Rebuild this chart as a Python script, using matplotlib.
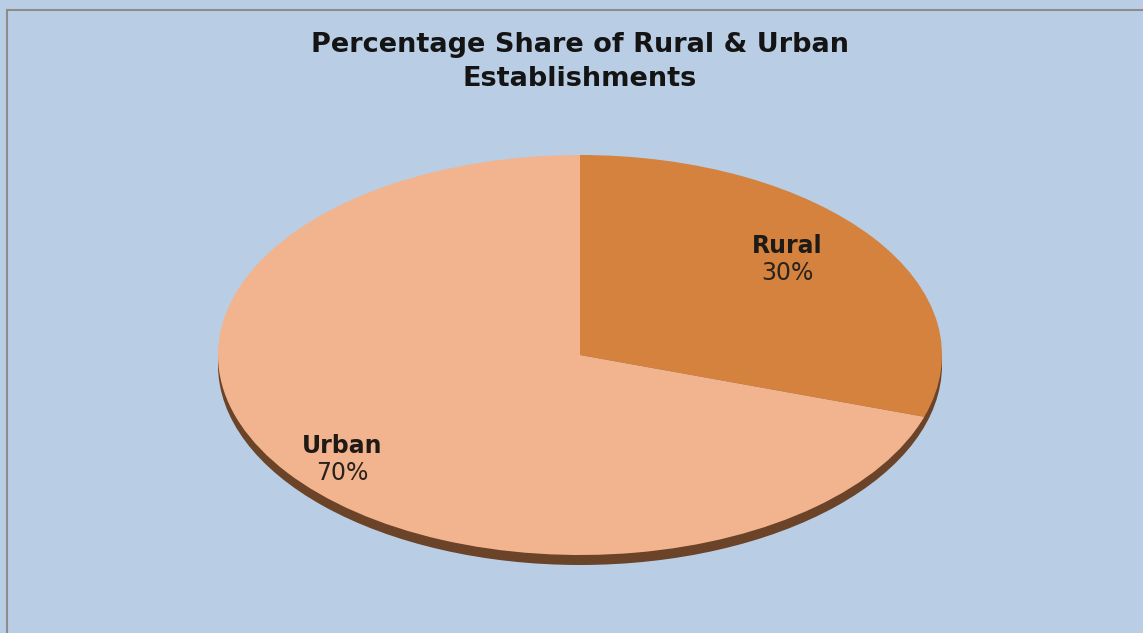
import matplotlib.pyplot as plt
from matplotlib.patches import Ellipse, Rectangle

labels = ['Rural', 'Urban']
shares = [30, 70]
colors = ['#D4823E', '#F2B48E']

W, H = 1143, 633
fig = plt.figure(figsize=(W / 100, H / 100), dpi=100)
fig.patch.set_facecolor('#B9CDE5')

# frame line of the chart area (only top and left visible)
fig.patches.append(Rectangle((7 / W, -0.1), 1.2, (H - 10) / H + 0.1, transform=fig.transFigure,
                             fill=False, edgecolor='#8C8C8C', linewidth=1.5))

ax = fig.add_axes([0, 0, 1, 1])
ax.set_facecolor('none')

# pie centre at (580, 355) px, radii 362 x 200 px
cx, cy, rx, ry = 580, 355, 362, 200

wedges, _ = ax.pie(shares, colors=colors, startangle=90, counterclock=False,
                   wedgeprops=dict(linewidth=0))
ax.set_aspect('auto')
ax.set_xlim(-cx / rx, (W - cx) / rx)
ax.set_ylim((cy - H) / ry, cy / ry)
ax.axis('off')

# thickness / shadow under the pie
ax.add_patch(Ellipse((0, -0.05), 2.0, 2.0, facecolor='#6B4329', edgecolor='none', zorder=0))
for w in wedges:
    w.set_zorder(2)

lab_pos = {'Rural': (787, 246), 'Urban': (342, 446)}
for lab, val in zip(labels, shares):
    px, py = lab_pos[lab]
    ax.text((px - cx) / rx, (cy - py) / ry, lab, ha='center', va='center',
            fontsize=17, fontweight='bold', color='#1E1A16', family='DejaVu Sans', zorder=3)
    ax.text((px - cx) / rx, (cy - py - 27) / ry, f'{val}%', ha='center', va='center',
            fontsize=17, color='#2A221C', family='DejaVu Sans', zorder=3)

fig.text(580 / W, 1 - 62 / H, 'Percentage Share of Rural & Urban\nEstablishments', ha='center',
         va='center', fontsize=19.5, fontweight='bold', color='#141414', family='DejaVu Sans',
         linespacing=1.38)

fig.savefig('out.png', dpi=100, facecolor=fig.get_facecolor())
